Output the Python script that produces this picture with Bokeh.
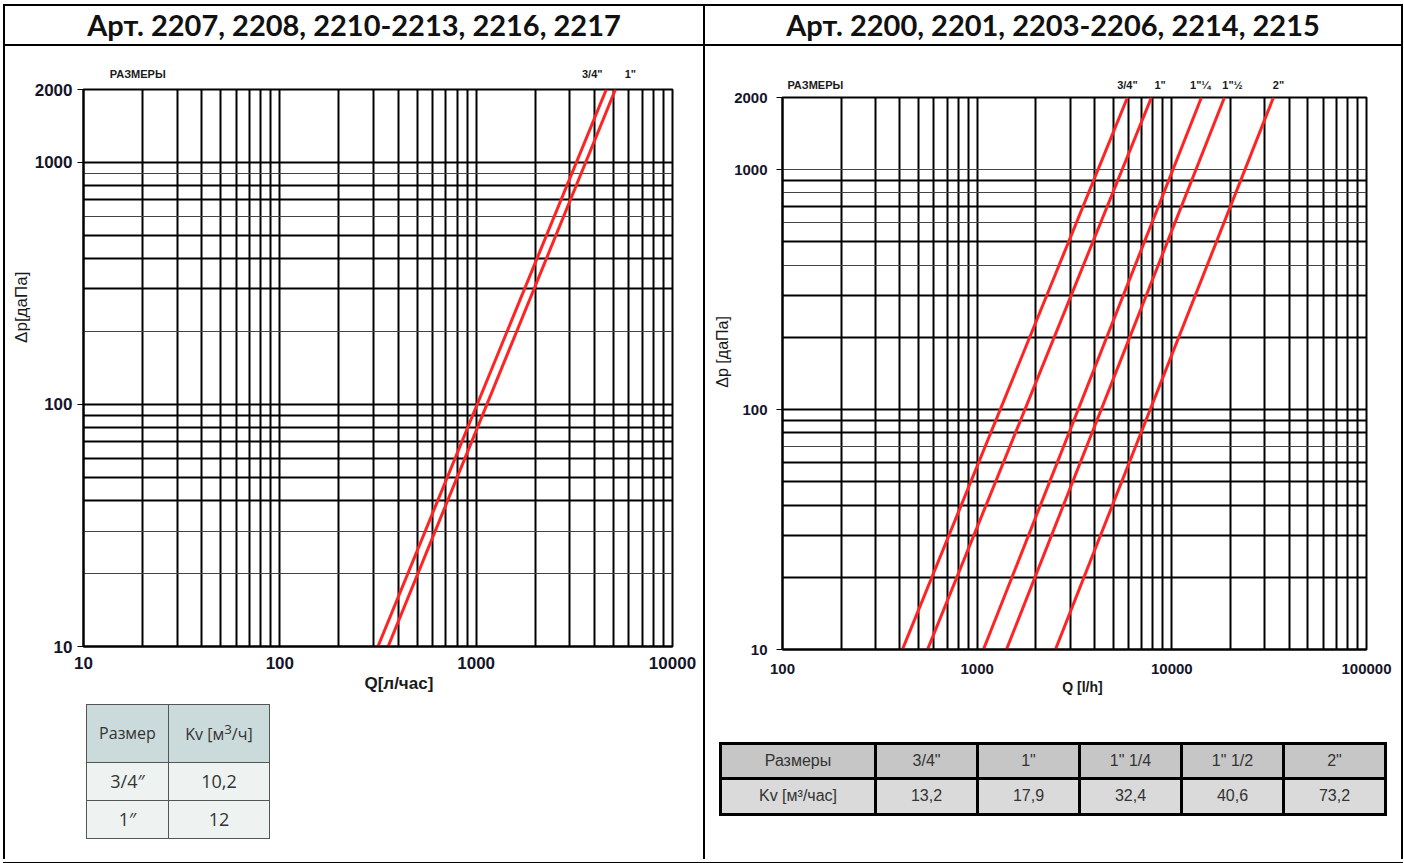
from bokeh.plotting import figure
from bokeh.models import FixedTicker, NumeralTickFormatter, Grid, LogAxis, Div
from bokeh.layouts import column, row
from bokeh.embed import file_html
from bokeh.resources import INLINE

# ---------------- data ----------------
title_left = "Арт. 2207, 2208, 2210-2213, 2216, 2217"
title_right = "Арт. 2200, 2201, 2203-2206, 2214, 2215"

dp_ends = [10, 2000]

left_sizes = ['3/4"', '1"']
left_table_sizes = ['3/4″', '1″']
left_kv = ["10,2", "12"]
left_q_start = [316, 356]
left_q_end = [4600, 5120]
left_label_q = [3900, 6100]

right_sizes = ['3/4"', '1"', '1"¼', '1"½', '2"']
right_table_sizes = ['3/4"', '1"', '1" 1/4', '1" 1/2', '2"']
right_kv = ["13,2", "17,9", "32,4", "40,6", "73,2"]
right_q_start = [413, 556, 1077, 1414, 2524]
right_q_end = [5916, 7855, 14190, 18630, 33260]
right_label_q = [5916, 8700, 14000, 20500, 35300]

left_x_ticks = [10, 100, 1000, 10000]
left_y_ticks = [10, 100, 1000, 2000]
right_x_ticks = [100, 1000, 10000, 100000]
right_y_ticks = [10, 100, 1000, 2000]

left_vgrid = [20, 30, 40, 50, 60, 70, 80, 90, 100, 200, 300, 400, 500, 600, 700, 800, 900,
              1000, 2000, 3000, 4000, 5000, 6000, 7000, 8000, 9000]
right_vgrid = [200, 300, 400, 500, 600, 700, 800, 900, 1000, 2000, 3000, 4000, 5000, 6000, 7000,
               8000, 9000, 10000, 20000, 30000, 40000, 50000, 60000, 70000, 80000, 90000]
left_hgrid_thick = [40, 50, 60, 70, 80, 90, 100, 300, 400, 500, 700, 800, 1000]
left_hgrid_thin = [20, 30, 200, 600, 900]
right_hgrid_thick = [20, 30, 40, 50, 60, 80, 90, 100, 200, 300, 500, 700, 900]
right_hgrid_thin = [70, 400, 600, 800, 1000]

FONT = "Liberation Sans"
TICK_COLOR = "#15152a"
RED = "#ff2323"


def text_axis(cls_place, p, ticks, texts, standoff, size, bold, vertical=False):
    ax = LogAxis(ticker=FixedTicker(ticks=ticks, minor_ticks=[]),
                 major_label_overrides={t: s for t, s in zip(ticks, texts)})
    ax.axis_line_color = None
    ax.major_tick_line_color = None
    ax.minor_tick_line_color = None
    ax.major_tick_in = 0
    ax.major_tick_out = 0
    ax.major_label_standoff = standoff
    ax.major_label_text_font = FONT
    ax.major_label_text_font_size = size
    ax.major_label_text_font_style = "bold" if bold else "normal"
    ax.major_label_text_color = "#1a1a1a"
    if vertical:
        ax.major_label_orientation = "vertical"
    p.add_layout(ax, cls_place)
    return ax


def make_chart(xr, yr, xt, yt, vgrid, hthick, hthin, qs, qe, sizes, label_q, raz_q,
               xlab, xlab_q, ylab, ylab_dp, fw, fh, bl, br, bt, bb,
               tick_size, std_x, std_y, xlab_size, ylab_size, top_std):
    p = figure(x_axis_type="log", y_axis_type="log", x_range=xr, y_range=yr,
               frame_width=fw, frame_height=fh,
               min_border_left=bl, min_border_right=br, min_border_top=bt, min_border_bottom=bb,
               output_backend="svg", toolbar_location=None, background_fill_color="white",
               border_fill_color="white")
    p.outline_line_color = "black"
    p.outline_line_width = 2
    for ax, ticks, std in ((p.xaxis[0], xt, std_x), (p.yaxis[0], yt, std_y)):
        ax.ticker = FixedTicker(ticks=ticks, minor_ticks=[])
        ax.formatter = NumeralTickFormatter(format="0")
        ax.axis_line_width = 2
        ax.axis_line_color = "black"
        ax.major_tick_line_color = "black"
        ax.major_tick_line_width = 1
        ax.minor_tick_line_color = None
        ax.major_label_text_font = FONT
        ax.major_label_text_font_style = "bold"
        ax.major_label_text_font_size = tick_size
        ax.major_label_text_color = TICK_COLOR
        ax.major_label_standoff = std
    p.xaxis[0].major_tick_out = 0
    p.xaxis[0].major_tick_in = 0
    p.yaxis[0].major_tick_out = 6
    p.yaxis[0].major_tick_in = 0

    p.xgrid.ticker = FixedTicker(ticks=vgrid, minor_ticks=[])
    p.xgrid.grid_line_color = "black"
    p.xgrid.grid_line_width = 2
    p.ygrid.ticker = FixedTicker(ticks=hthick, minor_ticks=[])
    p.ygrid.grid_line_color = "black"
    p.ygrid.grid_line_width = 2
    p.add_layout(Grid(dimension=1, ticker=FixedTicker(ticks=hthin, minor_ticks=[]),
                      grid_line_color="#444444", grid_line_width=1))

    for a, b in zip(qs, qe):
        p.line(x=[a, b], y=dp_ends, line_color=RED, line_width=3)

    # size labels + "РАЗМЕРЫ" above the chart
    text_axis("above", p, [raz_q] + label_q, ["РАЗМЕРЫ"] + sizes, top_std, "11px", True)
    # axis titles
    text_axis("below", p, [xlab_q], [xlab], 2, xlab_size, True)
    text_axis("left", p, [ylab_dp], [ylab], 0, ylab_size, False, vertical=True)
    return p


left = make_chart((10, 10000), (10, 2000), left_x_ticks, left_y_ticks, left_vgrid,
                  left_hgrid_thick, left_hgrid_thin, left_q_start, left_q_end, left_sizes,
                  left_label_q, 18.9, "Q[л/час]", 404, "Δp[даПа]", 252,
                  589, 557, 78, 31, 43, 50, "17px", 10, 5, "17px", "17px", 10)
right = make_chart((100, 100000), (10, 2000), right_x_ticks, right_y_ticks, right_vgrid,
                   right_hgrid_thick, right_hgrid_thin, right_q_start, right_q_end, right_sizes,
                   right_label_q, 147.6, "Q [l/h]", 3475, "Δp [даПа]", 174,
                   584, 552, 77, 35, 51, 60, "15px", 14, 9, "14px", "16px", 7)


def line_div(w, h):
    return Div(text="", width=w, height=h, margin=0, styles={"background-color": "black"})


def header(text, w):
    html = ('<div style="width:%dpx;height:38px;display:flex;align-items:center;'
            'justify-content:center;font-family:Lato;font-weight:bold;font-size:29px;'
            'color:#111;white-space:nowrap;">%s</div>' % (w, text))
    return Div(text=html, width=w, height=38, margin=0)


# left table
td_l = ('border:1px solid #555;text-align:center;color:#333;font-family:\'Open Sans\';padding:0;')
rows_l = "".join(
    '<tr style="height:38px;background:#eef3f1;"><td style="%sfont-size:18px;">%s</td>'
    '<td style="%sfont-size:18px;">%s</td></tr>' % (td_l, s, td_l, k)
    for s, k in zip(left_table_sizes, left_kv))
left_table_html = (
    '<div style="margin-left:81px;margin-top:8px;">'
    '<table style="border-collapse:collapse;table-layout:fixed;width:183px;">'
    '<colgroup><col style="width:82px"><col style="width:101px"></colgroup>'
    '<tr style="height:58px;background:#cbdadb;"><td style="%sfont-size:16px;">Размер</td>'
    '<td style="%sfont-size:16px;">Kv [м<sup>3</sup>/ч]</td></tr>%s</table></div>'
    % (td_l, td_l, rows_l))
left_table = Div(text=left_table_html, width=698, height=163, margin=0)

# right table
td_r = ('border:3px solid #000;text-align:center;color:#333;font-family:%s;font-size:16px;padding:0;'
        % FONT)
head_r = "".join('<td style="%s">%s</td>' % (td_r, s) for s in right_table_sizes)
vals_r = "".join('<td style="%s">%s</td>' % (td_r, k) for k in right_kv)
right_table_html = (
    '<div style="margin-left:14px;margin-top:33px;">'
    '<table style="border-collapse:collapse;table-layout:fixed;width:665px;">'
    '<colgroup><col style="width:155px">' + '<col style="width:102px">' * 5 + '</colgroup>'
    '<tr style="height:35px;background:#c6c6c6;"><td style="%s">Размеры</td>%s</tr>'
    '<tr style="height:36px;background:#dadada;"><td style="%s">Kv [м³/час]</td>%s</tr>'
    '</table></div>' % (td_r, head_r, td_r, vals_r))
right_table = Div(text=right_table_html, width=696, height=153, margin=0)

left_col = column(left, left_table, spacing=0)
right_col = column(right, right_table, spacing=0)

root = column(
    line_div(1400, 2),
    row(line_div(2, 38), header(title_left, 698), line_div(2, 38), header(title_right, 696),
        line_div(2, 38), spacing=0),
    line_div(1400, 2),
    row(line_div(2, 813), left_col, line_div(2, 813), right_col, line_div(2, 813), spacing=0),
    line_div(1400, 2),
    spacing=0,
    styles={"margin-left": "3px", "margin-top": "4px"},
)

open("out.html", "w").write(file_html(root, INLINE))
